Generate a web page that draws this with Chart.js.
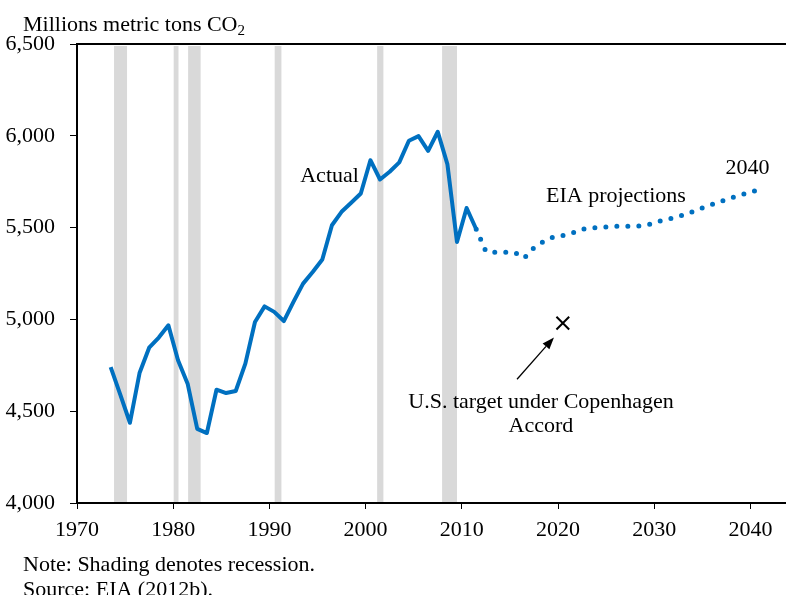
<!DOCTYPE html>
<html>
<head>
<meta charset="utf-8">
<script src="https://cdn.jsdelivr.net/npm/chart.js@4"></script>
<style>
  html, body { margin: 0; padding: 0; background: #fff; }
  canvas { display: block; }
</style>
</head>
<body>
<canvas id="co2-chart" width="786" height="595"></canvas>
<script>
// historical emissions, millions metric tons CO2
const actualYears = [1973, 1974, 1975, 1976, 1977, 1978, 1979, 1980, 1981, 1982,
  1983, 1984, 1985, 1986, 1987, 1988, 1989, 1990, 1991, 1992, 1993, 1994, 1995,
  1996, 1997, 1998, 1999, 2000, 2001, 2002, 2003, 2004, 2005, 2006, 2007, 2008,
  2009, 2010, 2011];
const actualValues = [4740, 4590, 4437, 4708, 4846, 4901, 4968, 4777, 4650, 4404,
  4381, 4617, 4599, 4610, 4759, 4986, 5071, 5041, 4991, 5095, 5195, 5258, 5326,
  5513, 5586, 5635, 5686, 5867, 5762, 5804, 5855, 5973, 5998, 5918, 6022, 5846,
  5422, 5607, 5491];

// EIA projections (starts at the last actual year)
const projectionYears = [2011, 2012, 2013, 2014, 2015, 2016, 2017, 2018, 2019,
  2020, 2021, 2022, 2023, 2024, 2025, 2026, 2027, 2028, 2029, 2030, 2031, 2032,
  2033, 2034, 2035, 2036, 2037, 2038, 2039, 2040];
const projectionValues = [5491, 5371, 5366, 5366, 5365, 5335, 5390, 5424, 5448,
  5457, 5470, 5491, 5498, 5502, 5505, 5508, 5508, 5509, 5518, 5535, 5547, 5560,
  5576, 5597, 5617, 5634, 5653, 5670, 5685, 5700];

// Copenhagen target
const targetYears = [2020];
const targetValues = [4980];

// recessions (fractional years)
const recessionStarts = [1973.85, 1980.05, 1981.55, 1990.55, 2001.2, 2007.95];
const recessionEnds = [1975.2, 1980.55, 1982.85, 1991.25, 2001.85, 2009.5];

const xTicks = [1970, 1980, 1990, 2000, 2010, 2020, 2030, 2040];
const yTicks = [4000, 4500, 5000, 5500, 6000, 6500];

const BLUE = '#0070c0';
const FONT = '"Liberation Serif", "Times New Roman", serif';

// annual values sit at mid-year
const toPoints = (years, values) => years.map((yr, i) => ({ x: yr + 0.5, y: values[i] }));

const extras = {
  id: 'extras',
  beforeDatasetsDraw(chart) {
    const { ctx, chartArea, scales } = chart;
    ctx.save();
    ctx.fillStyle = '#d9d9d9';
    recessionStarts.forEach((s, i) => {
      const x0 = scales.x.getPixelForValue(s);
      const x1 = scales.x.getPixelForValue(recessionEnds[i]);
      ctx.fillRect(x0, chartArea.top + 2, x1 - x0, chartArea.bottom - chartArea.top - 3);
    });
    ctx.restore();
  },
  afterDraw(chart) {
    const { ctx, chartArea, scales } = chart;
    const px = v => scales.x.getPixelForValue(v);
    const py = v => scales.y.getPixelForValue(v);
    ctx.save();

    // top frame line
    ctx.strokeStyle = '#000';
    ctx.lineWidth = 2;
    ctx.beginPath();
    ctx.moveTo(chartArea.left - 1, chartArea.top);
    ctx.lineTo(chartArea.right, chartArea.top);
    ctx.stroke();

    ctx.fillStyle = '#000';
    ctx.textBaseline = 'alphabetic';
    ctx.font = '22px ' + FONT;

    // unit label
    ctx.textAlign = 'left';
    const unit = 'Millions metric tons CO';
    ctx.fillText(unit, 23, 31);
    const w = ctx.measureText(unit).width;
    ctx.font = '15px ' + FONT;
    ctx.fillText('2', 23 + w, 35);
    ctx.font = '22px ' + FONT;

    // series labels
    ctx.textAlign = 'right';
    ctx.fillText('Actual', px(1999.3), py(5748));
    ctx.textAlign = 'left';
    ctx.fillText('EIA projections', px(2018.75), py(5641));
    ctx.textAlign = 'center';
    ctx.fillText('2040', px(2039.7), py(5792));

    // target note + arrow
    ctx.fillText('U.S. target under Copenhagen', px(2018.23), py(4517));
    ctx.fillText('Accord', px(2018.23), py(4387));

    const tx = px(2015.74), ty = py(4674);
    const hx = px(2019.58), hy = py(4902);
    const ang = Math.atan2(hy - ty, hx - tx);
    const headLen = 12, headHalf = 4.5;
    const bx = hx - headLen * Math.cos(ang), by = hy - headLen * Math.sin(ang);
    ctx.lineWidth = 1.3;
    ctx.beginPath();
    ctx.moveTo(tx, ty);
    ctx.lineTo(bx, by);
    ctx.stroke();
    ctx.beginPath();
    ctx.moveTo(hx, hy);
    ctx.lineTo(bx + headHalf * Math.sin(ang), by - headHalf * Math.cos(ang));
    ctx.lineTo(bx - headHalf * Math.sin(ang), by + headHalf * Math.cos(ang));
    ctx.closePath();
    ctx.fill();

    // footnotes
    ctx.textAlign = 'left';
    ctx.fillText('Note: Shading denotes recession.', 23, 571);
    ctx.fillText('Source: EIA (2012b).', 23, 596);
    ctx.restore();
  }
};

new Chart(
  document.getElementById('co2-chart'),
  {
    type: 'line',
    data: {
      datasets: [
        {
          label: 'Actual',
          data: toPoints(actualYears, actualValues),
          borderColor: BLUE,
          borderWidth: 4,
          pointRadius: 0,
          tension: 0,
          borderJoinStyle: 'round'
        },
        {
          label: 'EIA projections',
          data: toPoints(projectionYears, projectionValues),
          borderColor: BLUE,
          borderWidth: 5,
          borderDash: [0, 11],
          borderCapStyle: 'round',
          pointRadius: 0,
          tension: 0
        },
        {
          type: 'scatter',
          label: 'U.S. target under Copenhagen Accord',
          data: toPoints(targetYears, targetValues),
          pointStyle: 'crossRot',
          pointRadius: 9,
          pointBorderWidth: 2,
          borderColor: '#000',
          backgroundColor: '#000',
          showLine: false
        }
      ]
    },
    options: {
      responsive: false,
      animation: false,
      devicePixelRatio: 1,
      layout: { autoPadding: false, padding: { top: 44, left: 0, right: 0, bottom: 0 } },
      plugins: { legend: { display: false }, tooltip: { enabled: false } },
      scales: {
        x: {
          type: 'linear',
          min: 1970,
          max: 2043.7,
          afterBuildTicks: scale => { scale.ticks = xTicks.map(v => ({ value: v })); },
          afterFit: scale => {
            scale.height = 92;
            scale.paddingLeft = 0;
            scale.paddingRight = 0;
          },
          grid: { drawOnChartArea: false, drawTicks: true, tickLength: 6, tickColor: '#000', lineWidth: 1 },
          border: { display: true, color: '#000', width: 2 },
          ticks: {
            color: '#000',
            font: { family: FONT, size: 22 },
            padding: 8,
            maxRotation: 0,
            callback: v => String(v)
          }
        },
        y: {
          min: 4000,
          max: 6500,
          afterBuildTicks: scale => { scale.ticks = yTicks.map(v => ({ value: v })); },
          afterFit: scale => { scale.width = 77; },
          grid: { drawOnChartArea: false, drawTicks: true, tickLength: 7, tickColor: '#000', lineWidth: 1 },
          border: { display: true, color: '#000', width: 2 },
          ticks: {
            color: '#000',
            font: { family: FONT, size: 22 },
            padding: 15,
            callback: v => v.toLocaleString('en-US')
          }
        }
      }
    },
    plugins: [extras]
  }
);
</script>
</body>
</html>
